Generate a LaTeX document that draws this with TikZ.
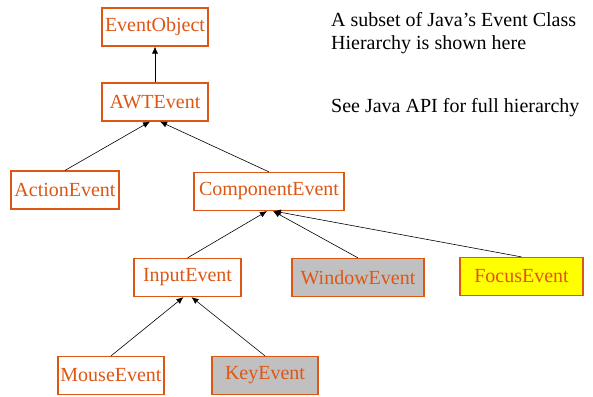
\documentclass[tikz,border=0pt]{standalone}
\usepackage{fontspec}
\setmainfont{Liberation Serif}
\usetikzlibrary{arrows.meta}
\definecolor{evorange}{RGB}{222,86,20}
\definecolor{evgray}{RGB}{192,192,192}
\definecolor{evyellow}{RGB}{255,255,0}
\tikzset{
	evclass/.style = {draw=evorange, line width=1.2pt, text=evorange, fill=white,
		minimum height=38pt, inner sep=2pt, font=\fontsize{20}{23}\selectfont},
	evgrey/.style = {evclass, fill=evgray},
	evfocus/.style = {evclass, fill=evyellow},
	inherit/.style = {-{Latex[length=7pt,width=6pt]}, line width=0.6pt},
	note/.style = {anchor=north west, align=left, inner sep=0pt,
		font=\fontsize{20}{23}\selectfont}
}

\begin{document}
\begin{tikzpicture}[x=1pt,y=-1pt]
	\useasboundingbox (0,0) rectangle (593,396);
	\node[evclass, minimum width=106pt] (EO) at (155,27) {EventObject};
	\node[evclass, minimum width=106pt] (AWT) at (155,102) {AWTEvent};
	\node[evclass, minimum width=108pt] (AE) at (65,190) {ActionEvent};
	\node[evclass, minimum width=150pt] (CE) at (269,191.5) {ComponentEvent};
	\node[evclass, minimum width=107pt] (IE) at (187.5,277.5) {InputEvent};
	\node[evgrey, minimum width=132pt] (WE) at (358,277.5) {WindowEvent};
	\node[evfocus, minimum width=123pt] (FE) at (521.5,276.5) {FocusEvent};
	\node[evclass, minimum width=106pt] (ME) at (111,375.5) {MouseEvent};
	\node[evgrey, minimum width=106pt] (KE) at (265,375.5) {KeyEvent};
	% inheritance arrows
	\draw[inherit] (AWT.north) -- (EO.south);
	\draw[inherit] (AE.north) -- ([xshift=-5pt]AWT.south);
	\draw[inherit] (CE.north) -- ([xshift=5pt]AWT.south);
	\draw[inherit] (IE.north) -- ([xshift=-2pt]CE.south);
	\draw[inherit] (WE.north) -- ([xshift=4pt]CE.south);
	\draw[inherit] (FE.north) -- ([xshift=5pt]CE.south);
	\draw[inherit] (ME.north) -- ([xshift=-4pt]IE.south);
	\draw[inherit] (KE.north) -- ([xshift=4pt]IE.south);
	% notes
	\node[note] (sub) at (331,12) {A subset of Java's Event Class\\Hierarchy is shown here};
	\node[note] (api) at (331,98) {See Java API for full hierarchy};
\end{tikzpicture}
\end{document}
